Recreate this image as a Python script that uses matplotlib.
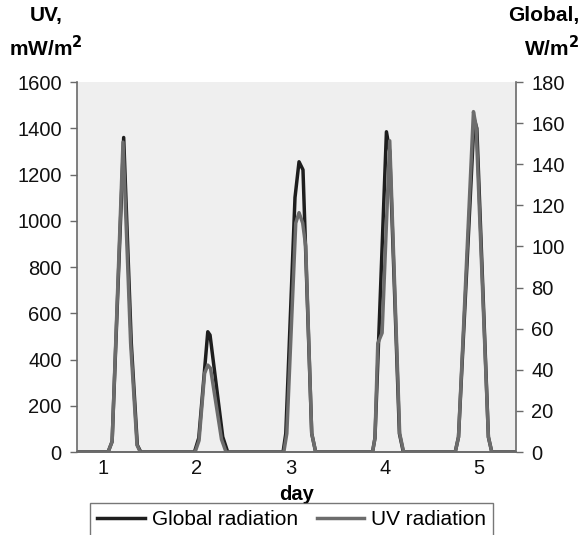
import numpy as np
import matplotlib.pyplot as plt

plt.rcParams["font.family"] = ["Liberation Sans", "DejaVu Sans"]

# values, x in days
day_ticks = [1, 2, 3, 4, 5]

glob_days = [0.74,
             1.056, 1.099, 1.222, 1.303, 1.367, 1.404,
             1.975, 2.021, 2.117, 2.141, 2.276, 2.329,
             2.918, 2.947, 3.045, 3.088, 3.130, 3.223, 3.265,
             3.870, 3.896, 4.018, 4.053, 4.156, 4.198,
             4.750, 4.785, 4.951, 4.980, 5.103, 5.139,
             5.40]
glob_wm2 = [0,
            0, 5.1, 153.0, 52.9, 3.4, 0,
            0, 6.8, 58.5, 56.9, 7.4, 0,
            0, 9.0, 123.8, 141.2, 137.3, 9.0, 0,
            0, 6.8, 155.8, 146.3, 9.0, 0,
            0, 7.3, 162.0, 157.5, 7.3, 0,
            0]

uv_days = [0.74,
           1.056, 1.099, 1.215, 1.296, 1.364, 1.399,
           1.982, 2.024, 2.083, 2.117, 2.146, 2.263, 2.311,
           2.926, 2.958, 3.053, 3.088, 3.127, 3.159, 3.223, 3.265,
           3.870, 3.896, 3.926, 3.972, 4.053, 4.159, 4.201,
           4.750, 4.785, 4.944, 4.972, 5.103, 5.139,
           5.40]
uv_mwm2 = [0,
           0, 45, 1340, 470, 30, 0,
           0, 50, 340, 376, 362, 55, 0,
           0, 80, 990, 1035, 990, 890, 80, 0,
           0, 60, 470, 515, 1346, 80, 0,
           0, 65, 1472, 1410, 65, 0,
           0]

black = "#1e1e1e"
grey = "#6c6c6c"
axis_col = "#6a6a6a"

fig = plt.figure(figsize=(5.84, 5.35), dpi=100)
ax1 = fig.add_axes([0.1318, 0.1551, 0.7518, 0.6916])
ax2 = ax1.twinx()

# UV drawn on top of global
ax1.set_zorder(2)
ax1.patch.set_visible(False)
ax2.patch.set_visible(True)
ax2.patch.set_facecolor("#efefef")

l_glob, = ax2.plot(glob_days, glob_wm2, color=black, lw=2.5,
                   solid_joinstyle="round", label="Global radiation")
l_uv, = ax1.plot(uv_days, uv_mwm2, color=grey, lw=2.5,
                 solid_joinstyle="round", label="UV radiation")

ax1.set_xlim(0.725, 5.397)
ax1.set_ylim(0, 1600)
ax2.set_ylim(0, 180)
ax1.set_yticks(np.arange(0, 1601, 200))
ax2.set_yticks(np.arange(0, 181, 20))
ax1.set_xticks(day_ticks)

for ax in (ax1, ax2):
    ax.spines["top"].set_visible(False)
    for s in ("left", "right", "bottom"):
        ax.spines[s].set_color(axis_col)
        ax.spines[s].set_linewidth(1.2)
ax1.spines["right"].set_visible(False)
ax2.spines["left"].set_visible(False)

ax1.tick_params(axis="y", labelsize=14.5, length=5, width=1, color=axis_col,
                pad=6, labelcolor="#111111")
ax2.tick_params(axis="y", labelsize=14.5, length=5, width=1, color=axis_col,
                pad=6, labelcolor="#111111")
ax1.tick_params(axis="x", labelsize=14.5, length=0, pad=5, labelcolor="#111111")

ax1.set_xlabel("day", fontsize=14.5, fontweight="bold", labelpad=5)

fig.text(46 / 584, 1 - 16 / 535, "UV,", fontsize=15, fontweight="bold",
         ha="center", va="center")
fig.text(46 / 584, 1 - 48 / 535, "mW/m$^{\\mathbf{2}}$", fontsize=15,
         fontweight="bold", ha="center", va="center")
fig.text(579 / 584, 1 - 16 / 535, "Global,", fontsize=15, fontweight="bold",
         ha="right", va="center")
fig.text(579 / 584, 1 - 48 / 535, "W/m$^{\\mathbf{2}}$", fontsize=15,
         fontweight="bold", ha="right", va="center")

leg = fig.legend([l_glob, l_uv], ["Global radiation", "UV radiation"],
                 loc="upper right", bbox_to_anchor=(493 / 584, 1 - 503 / 535),
                 ncol=2, fontsize=15, frameon=True, fancybox=False,
                 handlelength=2.3, handletextpad=0.3, columnspacing=0.9,
                 borderpad=0.35, borderaxespad=0)
leg.get_frame().set_edgecolor("#555555")
leg.get_frame().set_linewidth(1.0)
for h in leg.legend_handles:
    h.set_linewidth(2.5)

fig.savefig("out.png", dpi=100)
